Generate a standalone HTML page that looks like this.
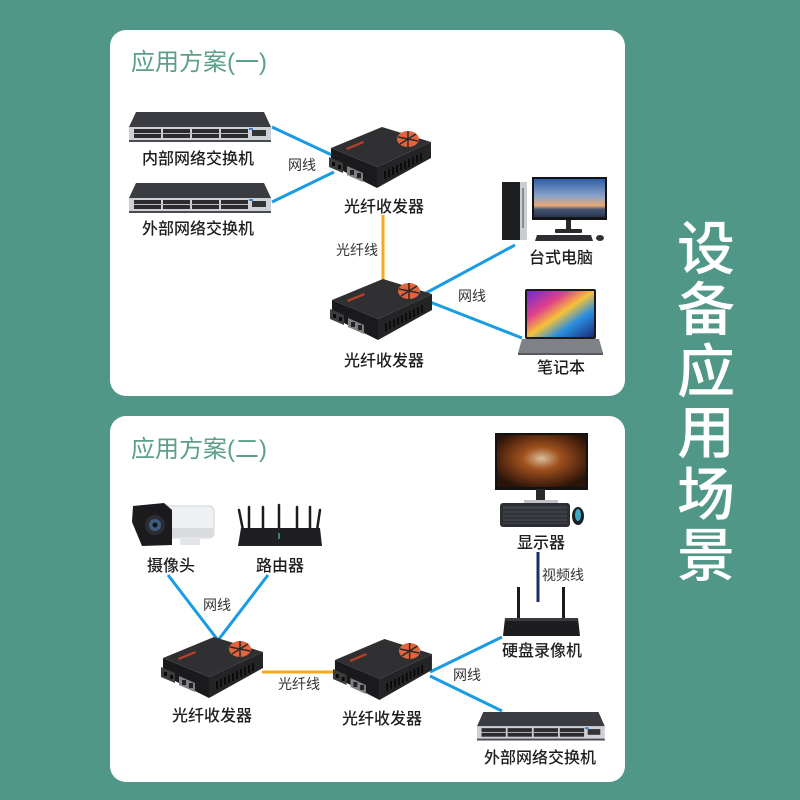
<!DOCTYPE html>
<html><head><meta charset="utf-8"><style>
html,body{margin:0;padding:0;background:#509787;}
svg{display:block;}
text{font-family:"Liberation Sans","Noto Sans CJK SC",sans-serif;}
.lb{font-size:16px;fill:#1e1e1e;font-weight:500;text-anchor:middle;}
.sm{font-size:14px;fill:#333;text-anchor:middle;}
.tt{font-size:24px;fill:#5b9f8b;}
.big{font-size:58px;fill:#fff;text-anchor:middle;font-weight:500;}
</style></head><body>
<svg width="800" height="800" viewBox="0 0 800 800" xmlns="http://www.w3.org/2000/svg">
<defs>
 <linearGradient id="sky" x1="0" y1="0" x2="0" y2="1">
  <stop offset="0" stop-color="#2f5fa8"/><stop offset="0.45" stop-color="#8aa3c8"/><stop offset="0.7" stop-color="#e9a874"/><stop offset="0.8" stop-color="#445470"/><stop offset="1" stop-color="#2a3550"/>
 </linearGradient>
 <linearGradient id="lap" x1="0" y1="0" x2="1" y2="1">
  <stop offset="0" stop-color="#6a2bd0"/><stop offset="0.3" stop-color="#e0408a"/><stop offset="0.5" stop-color="#f5c23a"/><stop offset="0.7" stop-color="#2a8fe0"/><stop offset="1" stop-color="#1a2a7a"/>
 </linearGradient>
 <radialGradient id="game" cx="0.5" cy="0.45" r="0.6">
  <stop offset="0" stop-color="#d9c09a"/><stop offset="0.35" stop-color="#a0521e"/><stop offset="0.75" stop-color="#5a2a10"/><stop offset="1" stop-color="#2a140a"/>
 </radialGradient>
 <g id="trx">
  <polygon points="2,40 2,23 48,42 48,63" fill="#1a1a1c"/>
  <polygon points="48,42 102,17 102,33 48,63" fill="#242426"/>
  <polygon points="2,23 53,2 102,17 48,42" fill="#303033"/>
  <ellipse cx="79" cy="14" rx="11" ry="8" fill="#e2643d"/>
  <path d="M69 12 L89 16 M79 6 L79 22 M71 19 L87 9" stroke="#2a2a2a" stroke-width="1.5" fill="none"/>
  <polygon points="17,23 34,16 35,18 18,25" fill="#b8402a"/>
  <polygon points="0,32 14,38 14,48 0,42" fill="#3c3c3e"/>
  <rect x="3" y="37" width="3" height="4" fill="#0a0a0a"/><rect x="9" y="40" width="3" height="4" fill="#0a0a0a"/>
  <polygon points="18,41 34,48 34,57 18,50" fill="#7d7f83"/>
  <rect x="21" y="45" width="4" height="5" fill="#222"/><rect x="28" y="48" width="4" height="5" fill="#222"/>
  <path d="M56 46 V54 M60 44 V52 M64 42 V50 M68 40 V48 M72 38 V46 M76 36 V44 M80 34 V42 M84 32 V40 M88 30 V38 M92 28 V36" stroke="#060606" stroke-width="1.6"/>
 </g>
 <g id="sw">
  <polygon points="7,0 135,0 142,15 0,15" fill="#3b3c41"/>
  <rect x="0" y="15" width="142" height="13" fill="#cdd0d4"/>
  <rect x="0" y="28" width="142" height="2" fill="#4a4b4f"/>
  <rect x="5" y="17" width="27" height="9" fill="#2c2c2e"/>
  <rect x="34" y="17" width="27" height="9" fill="#2c2c2e"/>
  <rect x="63" y="17" width="27" height="9" fill="#2c2c2e"/>
  <rect x="92" y="17" width="27" height="9" fill="#2c2c2e"/>
  <rect x="5" y="21" width="114" height="1" fill="#b8bbbf"/>
  <rect x="123" y="18" width="14" height="6" fill="#333"/>
  <rect x="120" y="16" width="4" height="2" fill="#3a7fd0"/>
 </g>
</defs>

<!-- cards -->
<rect x="110" y="30" width="515" height="366" rx="16" fill="#fff"/>
<rect x="110" y="416" width="515" height="366" rx="16" fill="#fff"/>

<!-- big vertical text -->
<text class="big" x="706" y="269">设</text>
<text class="big" x="706" y="330">备</text>
<text class="big" x="706" y="392">应</text>
<text class="big" x="706" y="453">用</text>
<text class="big" x="706" y="515">场</text>
<text class="big" x="706" y="576">景</text>

<!-- titles -->
<text class="tt" x="131" y="70">应用方案(一)</text>
<text class="tt" x="131" y="457">应用方案(二)</text>

<!-- connectors card 1 -->
<g stroke="#1a9be3" stroke-width="3" fill="none">
 <line x1="272" y1="127" x2="334" y2="156"/>
 <line x1="272" y1="202" x2="334" y2="172"/>
 <line x1="424" y1="294" x2="515" y2="245"/>
 <line x1="430" y1="302" x2="522" y2="338"/>
 <line x1="168" y1="575" x2="217" y2="639"/>
 <line x1="268" y1="575" x2="219" y2="639"/>
 <line x1="430" y1="672" x2="502" y2="637"/>
 <line x1="430" y1="676" x2="502" y2="711"/>
</g>
<line x1="383" y1="215" x2="383" y2="282" stroke="#f7a81b" stroke-width="3"/>
<line x1="262" y1="672" x2="336" y2="672" stroke="#f7a81b" stroke-width="3"/>
<line x1="538" y1="552" x2="538" y2="602" stroke="#1c2c6b" stroke-width="3"/>

<!-- switches -->
<use href="#sw" transform="translate(129,112)"/>
<use href="#sw" transform="translate(129,183)"/>
<use href="#sw" transform="translate(477,712) scale(0.9,0.95)"/>

<!-- transceivers -->
<use href="#trx" transform="translate(329,125)"/>
<use href="#trx" transform="translate(330,277)"/>
<use href="#trx" transform="translate(161,635)"/>
<use href="#trx" transform="translate(333,637) scale(0.97,1)"/>

<!-- desktop -->
<rect x="502" y="182" width="25" height="58" fill="#1e1e21"/>
<rect x="520" y="182" width="7" height="58" fill="#c9ccd0"/>
<rect x="522" y="188" width="2" height="40" fill="#8a8d92"/>
<rect x="532" y="177" width="75" height="43" fill="#141416"/>
<rect x="534" y="179" width="71" height="38" fill="url(#sky)"/>
<rect x="566" y="220" width="5" height="10" fill="#2a2a2c"/>
<rect x="555" y="229" width="27" height="4" rx="1" fill="#2a2a2c"/>
<polygon points="537,235 591,235 593,241 535,241" fill="#2d2e31"/>
<ellipse cx="600" cy="238" rx="4" ry="3" fill="#333"/>

<!-- laptop -->
<rect x="525" y="289" width="71" height="50" rx="2" fill="#1a1a1c"/>
<rect x="527" y="291" width="67" height="46" fill="url(#lap)"/>
<polygon points="522,339 599,339 603,353 518,353" fill="#7e8186"/>
<rect x="518" y="353" width="85" height="2" fill="#55585c"/>

<!-- camera -->
<rect x="150" y="506" width="64" height="32" rx="5" fill="#eef0f2" stroke="#cfd3d6"/>
<rect x="151" y="528" width="62" height="9" fill="#d9dcdf"/>
<rect x="180" y="537" width="20" height="8" fill="#e3e5e8"/>
<polygon points="133,506 164,503 172,510 172,545 142,546 132,522" fill="#1b1b1e"/>
<circle cx="155" cy="525" r="10" fill="#2c2c33"/>
<circle cx="155" cy="525" r="6" fill="#3e5b80"/>
<circle cx="155" cy="525" r="2.5" fill="#0f0f16"/>

<!-- router -->
<g stroke="#1c1c1f" stroke-width="2.5" stroke-linecap="round">
 <line x1="239" y1="510" x2="243" y2="530"/>
 <line x1="249" y1="507" x2="249" y2="530"/>
 <line x1="263" y1="507" x2="263" y2="530"/>
 <line x1="279" y1="505" x2="279" y2="530"/>
 <line x1="297" y1="507" x2="297" y2="530"/>
 <line x1="310" y1="507" x2="310" y2="530"/>
 <line x1="320" y1="510" x2="317" y2="530"/>
</g>
<polygon points="241,528 320,528 322,546 238,546" fill="#1f1f22"/>
<rect x="278" y="533" width="2" height="6" fill="#2a8a80"/>

<!-- monitor card 2 -->
<rect x="495" y="433" width="93" height="57" fill="#121214"/>
<rect x="497" y="435" width="89" height="52" fill="url(#game)"/>
<rect x="536" y="489" width="9" height="12" fill="#2a2a2c"/>
<rect x="524" y="500" width="34" height="3" fill="#bfc2c6"/>
<rect x="500" y="503" width="70" height="24" rx="3" fill="#2c2e33"/>
<rect x="503" y="506" width="64" height="18" fill="#3c3f45"/>
<g stroke="#25272b" stroke-width="1">
 <line x1="503" y1="510" x2="567" y2="510"/><line x1="503" y1="514" x2="567" y2="514"/><line x1="503" y1="518" x2="567" y2="518"/><line x1="503" y1="522" x2="567" y2="522"/>
</g>
<ellipse cx="578" cy="516" rx="6" ry="9" fill="#1e1f22"/>
<ellipse cx="578" cy="515" rx="3" ry="6" fill="#3aa8c8"/>

<!-- NVR -->
<rect x="517" y="587" width="3" height="33" fill="#1a1a1c"/>
<rect x="562" y="587" width="3" height="33" fill="#1a1a1c"/>
<polygon points="505,618 578,618 580,636 503,636" fill="#1d1d20"/>
<rect x="505" y="618" width="73" height="3" fill="#3a3a3e"/>

<!-- labels card 1 -->
<text class="lb" x="198" y="164">内部网络交换机</text>
<text class="lb" x="198" y="234">外部网络交换机</text>
<text class="sm" x="302" y="170">网线</text>
<text class="lb" x="384" y="212">光纤收发器</text>
<text class="sm" x="357" y="255">光纤线</text>
<text class="lb" x="384" y="366">光纤收发器</text>
<text class="sm" x="472" y="301">网线</text>
<text class="lb" x="561" y="263">台式电脑</text>
<text class="lb" x="561" y="373">笔记本</text>

<!-- labels card 2 -->
<text class="lb" x="171" y="571">摄像头</text>
<text class="lb" x="280" y="571">路由器</text>
<text class="sm" x="217" y="610">网线</text>
<text class="lb" x="212" y="721">光纤收发器</text>
<text class="sm" x="299" y="689">光纤线</text>
<text class="lb" x="382" y="724">光纤收发器</text>
<text class="sm" x="467" y="680">网线</text>
<text class="lb" x="541" y="548">显示器</text>
<text class="sm" x="563" y="580">视频线</text>
<text class="lb" x="542" y="656">硬盘录像机</text>
<text class="lb" x="540" y="763">外部网络交换机</text>
</svg>
</body></html>
